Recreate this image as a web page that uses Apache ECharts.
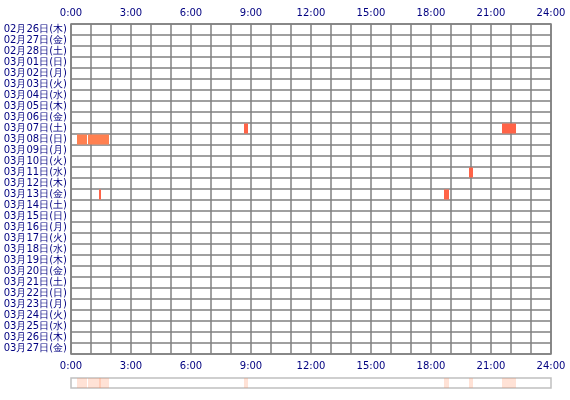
<!DOCTYPE html>
<html><head><meta charset="utf-8">
<script src="https://cdn.jsdelivr.net/npm/echarts@6/dist/echarts.min.js"></script>
<style>body{margin:0}#main{width:570px;height:400px}</style>
</head><body><div id="main"></div>
<script>
var days = ['02月26日(木)','02月27日(金)','02月28日(土)','03月01日(日)','03月02日(月)','03月03日(火)','03月04日(水)','03月05日(木)','03月06日(金)','03月07日(土)','03月08日(日)','03月09日(月)','03月10日(火)','03月11日(水)','03月12日(木)','03月13日(金)','03月14日(土)','03月15日(日)','03月16日(月)','03月17日(火)','03月18日(水)','03月19日(木)','03月20日(金)','03月21日(土)','03月22日(日)','03月23日(月)','03月24日(火)','03月25日(水)','03月26日(木)','03月27日(金)'];
// [day index, start hour, end hour]
var sessions = [
  [9, 8.65, 8.85],
  [9, 21.55, 22.25],
  [10, 0.3, 0.8],
  [10, 0.85, 1.9],
  [13, 19.9, 20.1],
  [15, 1.4, 1.5],
  [15, 18.65, 18.9]
];
var hourLabels = ['0:00','3:00','6:00','9:00','12:00','15:00','18:00','21:00','24:00'];

var myChart = echarts.init(document.getElementById('main'));
function fmt(v){ return hourLabels[v/3] || ''; }
var labelStyle = {color:'#000080', fontSize:10, fontFamily:'DejaVu Sans'};
function rect(params, api, fill, full){
  var s = api.coord([api.value(1), full ? 0 : api.value(0)]);
  var e = api.coord([api.value(2), full ? 0 : api.value(0)]);
  var h = full ? params.coordSys.height : api.size([0,1])[1] - 1;
  var y = full ? params.coordSys.y : s[1] - h/2;
  return {type:'rect', shape:{x:s[0], y:y, width:Math.max(e[0]-s[0],2), height:h}, style:{fill:fill}};
}
myChart.setOption({
  backgroundColor:'#fff',
  animation:false,
  grid:[
    {left:71, right:19, top:24, height:330, show:true, borderColor:'#808080', borderWidth:1.5},
    {left:71, right:19, top:378, height:10, show:true, borderColor:'#c0c0c0', borderWidth:1.5}
  ],
  xAxis:[
    {gridIndex:0, type:'value', min:0, max:24, interval:1, position:'top',
     axisLine:{show:false}, axisTick:{show:false},
     splitLine:{lineStyle:{color:'#808080', width:1.5}},
     axisLabel:Object.assign({formatter:fmt, showMinLabel:true, showMaxLabel:true, margin:6}, labelStyle)},
    {gridIndex:0, type:'value', min:0, max:24, interval:1, position:'bottom',
     axisLine:{show:false}, axisTick:{show:false}, splitLine:{show:false},
     axisLabel:Object.assign({formatter:fmt, showMinLabel:true, showMaxLabel:true, margin:7}, labelStyle)},
    {gridIndex:1, type:'value', min:0, max:24, show:false}
  ],
  yAxis:[
    {gridIndex:0, type:'category', data:days, inverse:true,
     axisLine:{show:false}, axisTick:{show:false},
     splitLine:{show:true, lineStyle:{color:'#808080', width:1.5}},
     axisLabel:Object.assign({margin:4, interval:0}, labelStyle)},
    {gridIndex:1, type:'value', min:0, max:1, show:false}
  ],
  series:[
    {type:'custom', xAxisIndex:0, yAxisIndex:0, data:sessions, encode:{x:[1,2], y:0},
     renderItem:function(p, api){ return rect(p, api, api.value(0) === 10 ? '#ff8050' : '#ff6347', false); }},
    {type:'custom', xAxisIndex:2, yAxisIndex:1, data:sessions, encode:{x:[1,2]},
     renderItem:function(p, api){ return rect(p, api, 'rgba(255,140,90,0.25)', true); }}
  ]
});
</script>
</body></html>
